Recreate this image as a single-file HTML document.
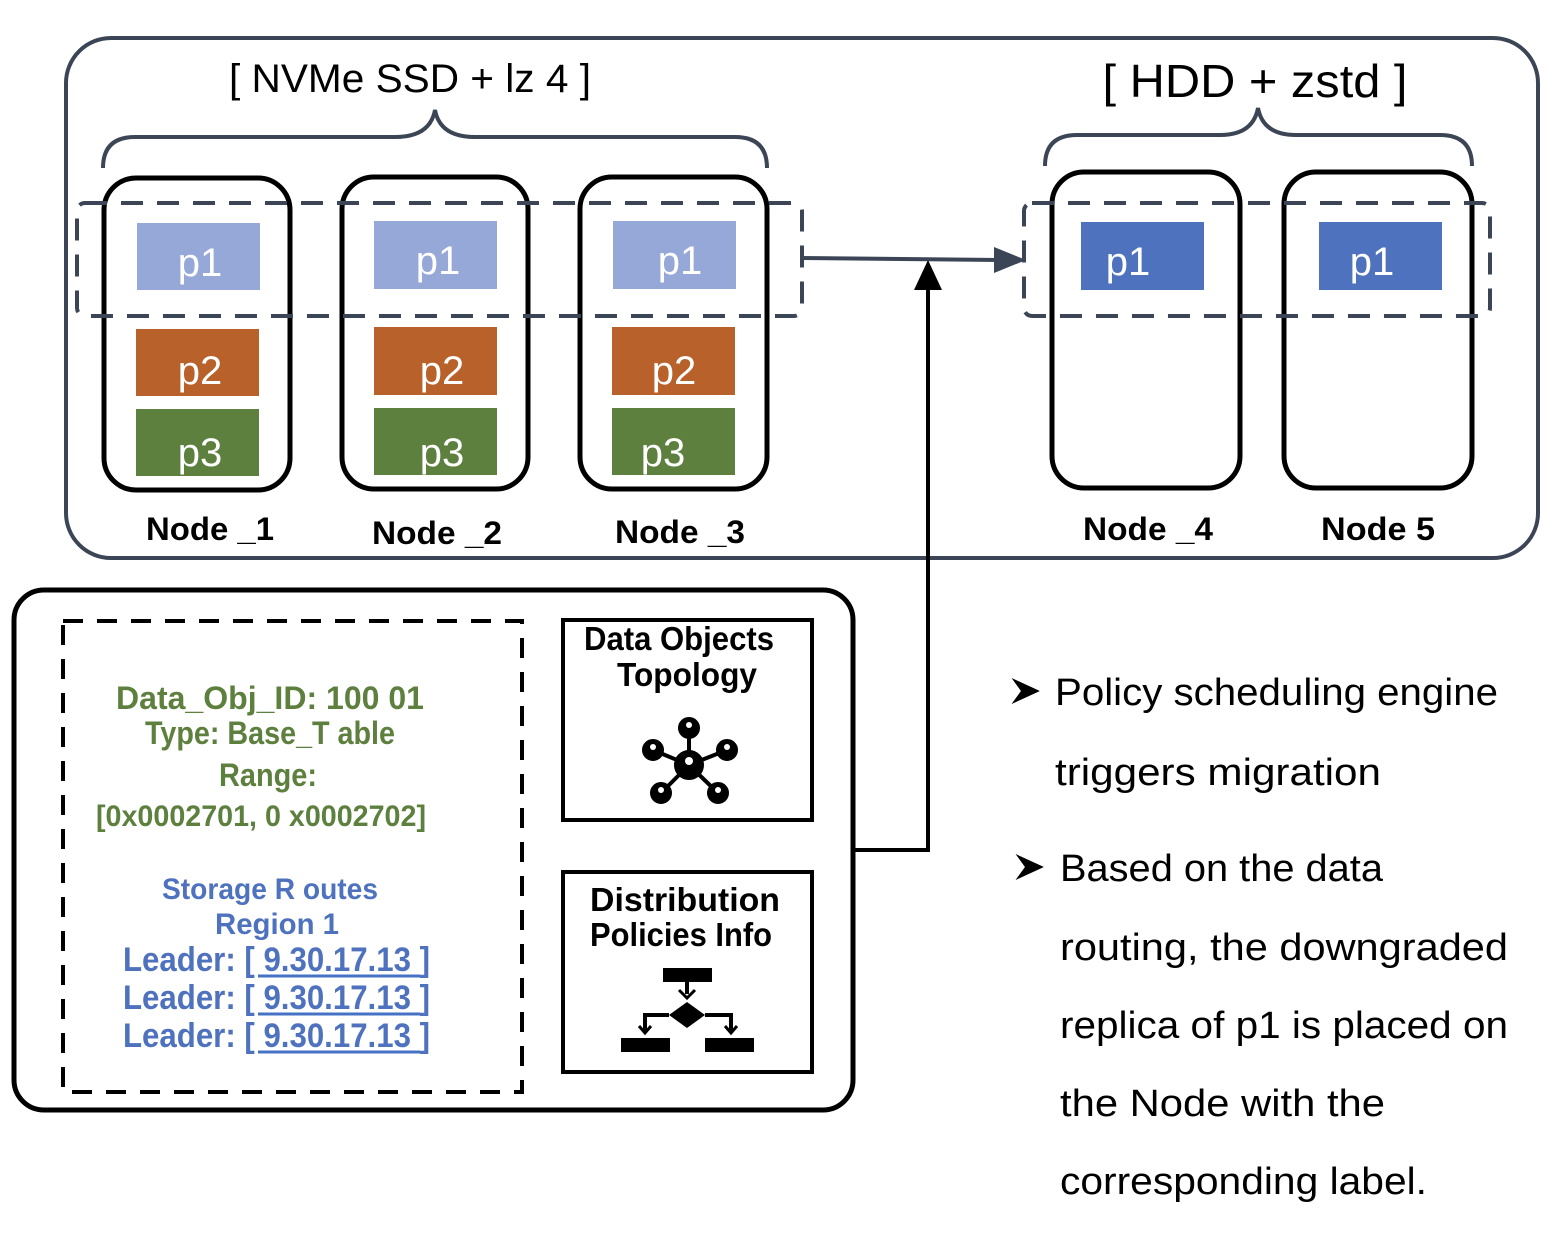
<!DOCTYPE html>
<html><head><meta charset="utf-8"><style>html,body{margin:0;padding:0;background:#fff}svg{display:block}</style></head>
<body>
<svg width="1554" height="1240" viewBox="0 0 1554 1240" xmlns="http://www.w3.org/2000/svg" font-family="Liberation Sans, sans-serif">
<rect x="66" y="38" width="1472" height="520" rx="45" fill="none" stroke="#3b4555" stroke-width="4"/>
<g fill="none" stroke="#3b4555" stroke-width="4">
<path d="M103,168 Q103,137 135,137 L395,137 Q430,137 435,110 Q440,137 475,137 L735,137 Q767,137 767,168"/>
<path d="M1045,166 Q1045,135 1077,135 L1220,135 Q1253,135 1258,108 Q1263,135 1296,135 L1440,135 Q1472,135 1472,166"/>
</g>
<text x="410" y="92" font-size="40" text-anchor="middle" textLength="362" lengthAdjust="spacingAndGlyphs">[ NVMe SSD + lz 4 ]</text>
<text x="1255" y="97" font-size="46" text-anchor="middle" textLength="305" lengthAdjust="spacingAndGlyphs">[ HDD + zstd ]</text>
<g>
<rect x="137" y="223" width="123" height="67" fill="#95a8d8"/>
<rect x="374" y="221" width="123" height="68" fill="#95a8d8"/>
<rect x="613" y="221" width="123" height="68" fill="#95a8d8"/>
<rect x="136" y="329" width="123" height="67" fill="#b8612b"/>
<rect x="374" y="327" width="123" height="68" fill="#b8612b"/>
<rect x="612" y="327" width="123" height="68" fill="#b8612b"/>
<rect x="136" y="409" width="123" height="67" fill="#5e803f"/>
<rect x="374" y="408" width="123" height="67" fill="#5e803f"/>
<rect x="612" y="408" width="123" height="67" fill="#5e803f"/>
<rect x="1081" y="222" width="123" height="68" fill="#4f72be"/>
<rect x="1319" y="222" width="123" height="68" fill="#4f72be"/>
</g>
<g fill="#fff" font-size="40" text-anchor="middle">
<text x="200" y="276">p1</text><text x="438" y="274">p1</text><text x="680" y="274">p1</text>
<text x="200" y="384">p2</text><text x="442" y="384">p2</text><text x="674" y="384">p2</text>
<text x="200" y="466">p3</text><text x="442" y="466">p3</text><text x="663" y="466">p3</text>
<text x="1128" y="275">p1</text><text x="1372" y="275">p1</text>
</g>
<g fill="none" stroke="#000" stroke-width="5">
<rect x="104" y="178" width="186" height="312" rx="32"/>
<rect x="342" y="177" width="186" height="312" rx="32"/>
<rect x="580" y="177" width="187" height="312" rx="32"/>
<rect x="1052" y="172" width="188" height="316" rx="32"/>
<rect x="1284" y="172" width="188" height="316" rx="32"/>
</g>
<g fill="none" stroke="#3b4555" stroke-width="4" stroke-dasharray="22,14">
<rect x="77" y="203" width="725" height="113" rx="8"/>
<rect x="1024" y="203" width="466" height="113" rx="8"/>
</g>
<g font-size="32" font-weight="bold" text-anchor="middle">
<text x="210" y="540" textLength="128" lengthAdjust="spacingAndGlyphs">Node _1</text><text x="437" y="544" textLength="130" lengthAdjust="spacingAndGlyphs">Node _2</text><text x="680" y="543" textLength="130" lengthAdjust="spacingAndGlyphs">Node _3</text>
<text x="1148" y="540" textLength="130" lengthAdjust="spacingAndGlyphs">Node _4</text><text x="1378" y="540" textLength="114" lengthAdjust="spacingAndGlyphs">Node 5</text>
</g>
<line x1="802" y1="258" x2="1000" y2="260" stroke="#3b4555" stroke-width="4"/>
<path d="M994,247 L1026,260 L994,273 z" fill="#3b4555"/>
<polyline points="855,850 928,850 928,285" fill="none" stroke="#000" stroke-width="4"/>
<path d="M914,290 L928,260 L942,290 z" fill="#000"/>
<rect x="14" y="590" width="839" height="520" rx="30" fill="none" stroke="#000" stroke-width="5"/>
<rect x="63" y="621" width="459" height="471" fill="none" stroke="#000" stroke-width="4" stroke-dasharray="20,14"/>
<rect x="563" y="620" width="249" height="200" fill="none" stroke="#000" stroke-width="4"/>
<rect x="563" y="872" width="249" height="200" fill="none" stroke="#000" stroke-width="4"/>
<g font-weight="bold" font-size="32" fill="#5e803f" text-anchor="middle">
<text x="270" y="709" textLength="308" lengthAdjust="spacingAndGlyphs">Data_Obj_ID: 100 01</text>
<text x="270" y="744" textLength="250" lengthAdjust="spacingAndGlyphs">Type: Base_T able</text>
<text x="268" y="786" textLength="98" lengthAdjust="spacingAndGlyphs">Range:</text>
<text x="261" y="826" font-size="30" textLength="330" lengthAdjust="spacingAndGlyphs">[0x0002701, 0 x0002702]</text>
</g>
<g font-weight="bold" font-size="30" fill="#4f72be">
<text x="270" y="899" text-anchor="middle" textLength="216" lengthAdjust="spacingAndGlyphs">Storage R outes</text>
<text x="277" y="934" text-anchor="middle" textLength="124" lengthAdjust="spacingAndGlyphs">Region 1</text>
<text x="123" y="971" font-size="34" textLength="307" lengthAdjust="spacingAndGlyphs">Leader: [ 9.30.17.13 ]</text>
<text x="123" y="1009" font-size="34" textLength="307" lengthAdjust="spacingAndGlyphs">Leader: [ 9.30.17.13 ]</text>
<text x="123" y="1047" font-size="34" textLength="307" lengthAdjust="spacingAndGlyphs">Leader: [ 9.30.17.13 ]</text>
</g>
<g stroke="#4472c4" stroke-width="3">
<line x1="258" y1="976" x2="420" y2="976"/><line x1="258" y1="1014" x2="420" y2="1014"/><line x1="258" y1="1052" x2="420" y2="1052"/>
</g>
<g font-weight="bold" font-size="33" text-anchor="middle">
<text x="679" y="650" textLength="190" lengthAdjust="spacingAndGlyphs">Data Objects</text>
<text x="687" y="686" textLength="140" lengthAdjust="spacingAndGlyphs">Topology</text>
<text x="685" y="911" textLength="190" lengthAdjust="spacingAndGlyphs">Distribution</text>
<text x="681" y="946" textLength="182" lengthAdjust="spacingAndGlyphs">Policies Info</text>
</g>
<g stroke="#000" stroke-width="4" fill="#000">
<line x1="689" y1="765" x2="689" y2="728"/><line x1="689" y1="765" x2="653" y2="750"/><line x1="689" y1="765" x2="727" y2="750"/>
<line x1="689" y1="765" x2="661" y2="793"/><line x1="689" y1="765" x2="718" y2="793"/>
<circle cx="689" cy="728" r="9"/><circle cx="653" cy="750" r="9"/><circle cx="727" cy="750" r="9"/>
<circle cx="661" cy="793" r="9"/><circle cx="718" cy="793" r="9"/><circle cx="689" cy="765" r="13"/>
</g>
<g fill="#fff">
<circle cx="689" cy="725" r="3"/><circle cx="653" cy="747" r="3"/><circle cx="727" cy="747" r="3"/>
<circle cx="661" cy="790" r="3"/><circle cx="718" cy="790" r="3"/><circle cx="689" cy="761" r="4"/>
</g>
<g fill="#000">
<rect x="663" y="968" width="49" height="14"/>
<rect x="685" y="982" width="4" height="12"/>
<path d="M679,990 L687,998 L695,990" stroke="#000" stroke-width="3" fill="none"/>
<path d="M687,1002 L705,1015 L687,1028 L669,1015 z"/>
<path d="M669,1015 L645,1015 L645,1032 M705,1015 L731,1015 L731,1032" stroke="#000" stroke-width="4" fill="none"/>
<path d="M639,1026 L645,1033 L651,1026 M725,1026 L731,1033 L737,1026" stroke="#000" stroke-width="3" fill="none"/>
<rect x="621" y="1038" width="49" height="14"/><rect x="705" y="1038" width="49" height="14"/>
</g>
<g fill="#000" stroke="#000" stroke-width="1.5" stroke-linejoin="miter">
<path d="M1014,680 L1038,691 L1014,702 L1022,691 z" fill="#fff"/>
<path d="M1018,856 L1042,867 L1018,878 L1026,867 z" fill="#fff"/>
<path d="M1014,680 L1038,691 L1022,691 z"/><path d="M1014,702 L1038,691 L1022,691 z" fill="#000"/>
<path d="M1018,856 L1042,867 L1026,867 z"/><path d="M1018,878 L1042,867 L1026,867 z"/>
</g>
<g font-size="38">
<text x="1055" y="705" textLength="443" lengthAdjust="spacingAndGlyphs">Policy scheduling engine</text>
<text x="1055" y="785" textLength="326" lengthAdjust="spacingAndGlyphs">triggers migration</text>
<text x="1060" y="881" textLength="323" lengthAdjust="spacingAndGlyphs">Based on the data</text>
<text x="1060" y="960" textLength="448" lengthAdjust="spacingAndGlyphs">routing, the downgraded</text>
<text x="1060" y="1038" textLength="448" lengthAdjust="spacingAndGlyphs">replica of p1 is placed on</text>
<text x="1060" y="1116" textLength="325" lengthAdjust="spacingAndGlyphs">the Node with the</text>
<text x="1060" y="1194" textLength="367" lengthAdjust="spacingAndGlyphs">corresponding label.</text>
</g>
</svg>
</body></html>
